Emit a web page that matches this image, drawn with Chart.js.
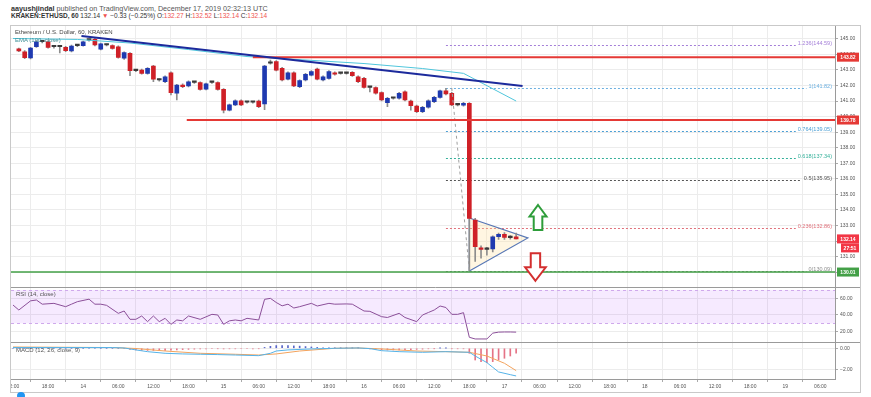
<!DOCTYPE html>
<html>
<head>
<meta charset="utf-8">
<script src="https://cdn.jsdelivr.net/npm/chart.js@4.4.0/dist/chart.umd.min.js"></script>
<style>
body { margin: 0; background: #fff; width: 871px; height: 397px; overflow: hidden; position: relative;
       font-family: "Liberation Sans", Arial, sans-serif; }
.txt { position: absolute; white-space: nowrap; line-height: 1; }
#head1 { left: 11px; top: 5px; font-size: 7.2px; color: #555; }
#head2 { left: 11px; top: 13px; font-size: 6.5px; color: #333; }
#head2 .r { color: #ef5350; }
#frame { position: absolute; left: 10px; top: 25px; width: 849px; height: 366px; border: 1px solid #c9c9c9; }
#frame canvas { position: absolute; left: 0; top: 0; }
#logo { position: absolute; left: 17px; top: 392px; width: 8px; height: 8px; border-radius: 50%; background: #2196f3; }
</style>
</head>
<body>
<div class="txt" id="head1"><b style="color:#333">aayushjindal</b> published on TradingView.com, December 17, 2019 02:32:13 UTC</div>
<div class="txt" id="head2"><b>KRAKEN:ETHUSD, 60</b> 132.14 <span class="r">&#9660;</span> &minus;0.33 (&minus;0.25%) O:<span class="r">132.27</span> H:<span class="r">132.52</span> L:<span class="r">132.14</span> C:<span class="r">132.14</span></div>
<div id="frame"><canvas id="c" width="849" height="366"></canvas></div>
<div class="txt" style="left:15px;top:29px;font-size:6px;color:#444">Ethereum / U.S. Dollar, 60, KRAKEN</div>
<div class="txt" style="left:15px;top:37px;font-size:6px;color:#3f8f96">EMA (100, close)</div>
<div class="txt" style="left:16px;top:291px;font-size:6px;color:#555">RSI (14, close)</div>
<div class="txt" style="left:16px;top:347px;font-size:6px;color:#555">MACD (12, 26, close, 9)</div>
<div id="logo"></div>
<script>
// hour 0 = Dec 13 12:00 UTC, one candle per hour
var firstHour = 1;
var opens = [144.35,144.17,143.77,144.49,144.81,144.81,144.49,144.49,144.45,144.22,
  144.56,144.56,144.92,144.97,144.34,144.60,144.56,144.49,143.75,144.07,
  142.95,142.99,142.78,143.25,142.35,142.24,142.82,141.50,142.03,141.97,
  142.20,142.18,141.77,142.20,142.18,141.75,140.42,140.75,141.02,140.92,
  140.92,141.00,140.81,143.43,143.53,143.10,142.40,142.82,141.92,142.35,
  142.67,143.06,142.35,142.46,142.82,142.78,142.78,142.85,142.56,142.46,
  141.88,141.86,141.54,140.89,141.18,141.18,141.60,141.00,140.68,140.31,
  140.60,140.96,141.24,141.66,141.50,140.75,140.73,140.85,133.35,131.57,
  131.47,131.49,132.28,132.44,132.22,132.27];
var highs = [144.40,144.25,144.45,144.88,144.90,144.87,144.55,144.55,144.52,144.60,
  144.62,144.86,144.98,145.05,144.72,144.66,144.62,144.55,144.17,144.12,
  143.02,143.05,143.15,143.30,142.42,142.62,142.88,142.08,142.10,142.30,
  142.26,142.24,142.15,142.26,142.24,141.80,140.80,141.08,141.07,140.98,
  140.98,141.06,143.30,143.64,143.60,143.16,142.88,142.88,142.36,142.78,
  142.95,143.12,142.62,142.95,142.88,142.84,142.84,142.90,142.62,142.52,
  141.94,141.92,141.60,141.24,141.24,141.56,141.66,141.06,140.74,140.66,
  141.08,141.30,141.71,141.82,141.56,140.81,140.91,140.90,133.46,131.70,
  131.60,132.34,132.52,132.55,132.35,132.52];
var lows = [144.18,143.72,143.70,144.44,144.74,144.40,144.40,144.09,144.18,144.15,
  144.50,144.52,144.85,144.55,144.28,144.54,144.33,143.75,143.68,142.63,
  142.88,142.72,142.72,142.24,142.28,142.18,141.39,141.07,141.86,141.90,
  142.14,141.70,141.71,142.14,141.70,140.23,140.36,140.70,140.70,140.86,
  140.86,140.58,140.45,143.37,142.94,142.30,142.35,141.92,141.86,142.30,
  142.62,142.35,142.30,142.40,142.66,142.72,142.72,142.58,142.18,141.82,
  141.58,141.44,141.00,140.64,141.12,141.12,141.00,140.42,140.25,140.25,
  140.54,140.90,141.18,141.40,140.70,140.69,140.67,130.09,130.70,130.90,
  131.10,131.30,132.10,132.10,132.12,132.14];
var closes = [144.22,143.79,144.41,144.81,144.81,144.45,144.49,144.49,144.23,144.54,
  144.56,144.81,144.92,144.60,144.67,144.60,144.39,143.81,144.11,142.95,
  142.95,142.78,143.10,142.40,142.35,142.56,141.54,142.03,141.92,142.24,
  142.20,141.75,142.10,142.20,141.75,140.42,140.75,141.02,140.75,140.92,
  140.92,140.64,143.25,143.43,142.99,142.35,142.82,141.97,142.31,142.72,
  142.89,142.40,142.56,142.89,142.72,142.78,142.78,142.63,142.24,141.88,
  141.88,141.50,141.07,141.18,141.18,141.50,141.07,140.70,140.31,140.60,
  141.02,141.24,141.65,141.45,140.75,140.75,140.85,133.46,131.64,131.47,
  131.47,132.28,132.44,132.24,132.22,132.14];

var emaHours = [0, 11, 20, 30, 40, 46, 60, 70, 77, 86];
var emaValues = [145.02, 144.96, 144.73, 144.31, 143.86, 143.73, 143.41, 143.09, 142.78, 141.00];

var trendHours = [11.7, 87.1];
var trendPrices = [145.18, 141.97];

var resistHigh = 143.82, resistHighFrom = 41;
var resistLow = 139.78, resistLowFrom = 29.7;
var supportPrice = 130.01;

var triangleHours = [78, 88, 78, 78];
var trianglePrices = [133.48, 132.2, 130.08, 133.48];

var fibFrom = [75, 141.84], fibTo = [78, 130.09], fibStartHour = 74;
var fibRatios = ['1.236', '1', '0.764', '0.618', '0.5', '0.236', '0'];
var fibPrices = [144.59, 141.82, 139.05, 137.34, 135.95, 132.86, 130.09];

var rsiHours = [0,1,3,4,5,7,9,10,11,13,14,15,16,18,19,20,21,22,23,24,25,26,27,28,29,30,32,34,35,36,
  37,38,39,40,42,43,44,45,46,47,48,49,51,52,54,55,57,58,60,61,63,64,66,67,69,70,71,72,73,74,
  75,76,77,78,79,80,81,82,83,84,85,86];
var rsiValues = [52,46,57,58,53,54,50,53,56,59,53,53,51.6,42,44.8,34.8,34.8,38.8,32,38.8,32,36,28.8,34,33,38.8,34.8,40.8,40,28.8,
  33,34,33,36,34,58.8,60,55,51,53,48.4,50,54,50.8,54,53,53.3,53,44.8,44.4,38,37,42,37,32,40,43,46,50.8,49,
  40.8,40.8,42.8,13.2,11.2,11.2,11.2,18.2,19.4,19.6,19.6,19.4];
var rsiBand = [30, 70];

var macdHours = [0,17,19,21,23,26,29,32,35,38,42,44,45,47,51,55,59,61,63,66,70,74,78,79,81,82,83,85,86];
var macdValues = [0.07,0.07,0.03,-0.15,-0.31,-0.46,-0.52,-0.55,-0.58,-0.62,-0.68,-0.46,-0.25,-0.15,-0.06,0,0.03,-0.03,-0.22,-0.31,-0.37,-0.31,-0.37,-0.71,-1.32,-1.75,-2.18,-2.43,-2.55];
var signalHours = [0,17,21,26,32,38,42,45,49,55,59,63,69,74,78,81,84,86];
var signalValues = [0.12,0.07,-0.02,-0.25,-0.46,-0.55,-0.62,-0.52,-0.25,0,0.03,-0.06,-0.25,-0.31,-0.37,-0.71,-1.38,-2.06];
var histValues = [0,0,0,0,0,0,0,0,0,0,0,0,0,0,0,0,0,0,0,0,
  -0.1,-0.14,-0.18,-0.2,-0.2,-0.18,-0.2,-0.17,-0.15,-0.12,-0.1,-0.08,-0.06,-0.05,-0.04,-0.04,-0.06,-0.05,-0.05,-0.04,-0.04,-0.05,-0.04,
  0.08,0.18,0.25,0.26,0.25,0.22,0.2,0.16,0.12,0.08,0.05,0.03,0.02,0.02,0.02,0.02,0.02,
  -0.02,-0.05,-0.1,-0.14,-0.16,-0.15,-0.15,-0.13,-0.12,-0.1,-0.08,-0.05,-0.03,0.02,0.02,-0.04,-0.05,-0.05,
  -0.46,-1.08,-1.23,-1.32,-1.23,-1.08,-0.92,-0.71,-0.46];

var timeTicks = [0,6,12,18,24,30,36,42,48,54,60,66,72,78,84,90,96,102,108,114,120,126,132,138];
var timeLabels = ['12:00','18:00','14','06:00','12:00','18:00','15','06:00','12:00','18:00','16','06:00',
  '12:00','18:00','17','06:00','12:00','18:00','18','06:00','12:00','18:00','19','06:00'];
var priceTicks = [130,131,132,133,134,135,136,137,138,139,140,141,142,143,144,145];
var rsiTicks = [20, 40, 60];
var macdTicks = [-2, 0];

var badgePrices = [143.82, 139.78, 132.14, 130.01];
var badgeColors = ['#e53935', '#e53935', '#f23645', '#43a047'];
var countdown = '27:51';
var fibColors = ['#a47fd8', '#6cb0e0', '#4b9fd5', '#35b09a', '#555555', '#e0707a', '#8c8c8c'];

function pts(xs, ys) { return xs.map(function (v, k) { return { x: v, y: ys[k] }; }); }

var hours = opens.map(function (o, k) { return k + firstHour; });
var candleColors = opens.map(function (o, k) {
  if (closes[k] > o) return '#1f3ab0';
  if (closes[k] < o) return '#cf2027';
  return '#3a3a3a';
});

function arrow(ctx, cx, tipY, dir, headH, headW, shaftW, shaftL, color) {
  // dir = 1 points up, -1 points down
  var baseY = tipY + dir * headH, endY = baseY + dir * shaftL;
  ctx.beginPath();
  ctx.moveTo(cx, tipY);
  ctx.lineTo(cx + headW, baseY);
  ctx.lineTo(cx + shaftW, baseY);
  ctx.lineTo(cx + shaftW, endY);
  ctx.lineTo(cx - shaftW, endY);
  ctx.lineTo(cx - shaftW, baseY);
  ctx.lineTo(cx - headW, baseY);
  ctx.closePath();
  ctx.fillStyle = '#fff';
  ctx.fill();
  ctx.lineWidth = 2;
  ctx.strokeStyle = color;
  ctx.stroke();
}

var overlay = {
  id: 'overlay',
  beforeDatasetsDraw: function (chart) {
    var ctx = chart.ctx, area = chart.chartArea, x = chart.scales.x, y = chart.scales.y, r = chart.scales.yRsi;
    ctx.save();
    var top = r.getPixelForValue(rsiBand[1]), bot = r.getPixelForValue(rsiBand[0]);
    ctx.fillStyle = 'rgba(153, 21, 255, 0.09)';
    ctx.fillRect(area.left, top, area.right - area.left, bot - top);
    ctx.strokeStyle = '#cfa9ec';
    ctx.lineWidth = 1;
    ctx.setLineDash([3, 3]);
    [top, bot].forEach(function (py) {
      ctx.beginPath(); ctx.moveTo(area.left, Math.round(py) + 0.5); ctx.lineTo(area.right, Math.round(py) + 0.5); ctx.stroke();
    });
    // fibonacci levels
    ctx.font = '5.5px "Liberation Sans", Arial, sans-serif';
    ctx.setLineDash([2, 2]);
    var x0 = x.getPixelForValue(fibStartHour), xr = area.right - 3;
    fibPrices.forEach(function (p, k) {
      var py = Math.round(y.getPixelForValue(p)) + 0.5;
      var label = fibRatios[k] + '(' + p.toFixed(2) + ')';
      var w = ctx.measureText(label).width;
      ctx.strokeStyle = fibColors[k];
      ctx.beginPath(); ctx.moveTo(x0, py); ctx.lineTo(xr - w - 2, py); ctx.stroke();
      ctx.fillStyle = fibColors[k];
      ctx.textAlign = 'right';
      ctx.textBaseline = 'middle';
      ctx.fillText(label, xr, py - 2.5);
    });
    ctx.restore();
  },
  afterDatasetsDraw: function (chart) {
    var ctx = chart.ctx, x = chart.scales.x, y = chart.scales.y;
    ctx.save();
    arrow(ctx, x.getPixelForValue(89.74), y.getPixelForValue(134.32), 1, 11.5, 8.5, 4.3, 13.5, '#2e9d3a');
    arrow(ctx, x.getPixelForValue(89.3), y.getPixelForValue(129.45), -1, 13.5, 10.3, 4.7, 14, '#d32f2f');
    ctx.restore();
  },
  afterDraw: function (chart) {
    var ctx = chart.ctx, y = chart.scales.y, r = chart.scales.yRsi;
    ctx.save();
    ctx.strokeStyle = '#9a9a9a';
    ctx.lineWidth = 1;
    [r.top, r.bottom].forEach(function (py) {
      ctx.beginPath(); ctx.moveTo(0, Math.round(py) + 0.5); ctx.lineTo(chart.width, Math.round(py) + 0.5); ctx.stroke();
    });
    ctx.font = 'bold 5px "Liberation Sans", Arial, sans-serif';
    ctx.textAlign = 'center';
    ctx.textBaseline = 'middle';
    var bx = y.left + 2, bw = chart.width - bx - 1;
    badgePrices.forEach(function (p, k) {
      var py = y.getPixelForValue(p);
      ctx.fillStyle = badgeColors[k];
      ctx.fillRect(bx, py - 4.5, bw, 9);
      ctx.fillStyle = '#fff';
      ctx.fillText(p.toFixed(2), bx + bw / 2, py + 0.5);
      if (p === closes[closes.length - 1]) {
        ctx.fillStyle = badgeColors[k];
        ctx.fillRect(bx + 4, py + 4.5, bw - 4, 9);
        ctx.fillStyle = '#fff';
        ctx.fillText(countdown, bx + 2 + bw / 2, py + 9.5);
      }
    });
    ctx.restore();
  }
};

// no extra padding for tick labels, the panes fill the canvas exactly
function noPad(s) { s.paddingTop = 0; s.paddingBottom = 0; s.paddingLeft = 0; s.paddingRight = 0; }
function fixWidth(s) { s.width = 25; noPad(s); }
var axisFont = { size: 5 };
var gridColor = '#ececec';

new Chart(document.getElementById('c'), {
  type: 'bar',
  data: {
    datasets: [
      { type: 'line', data: pts(triangleHours, trianglePrices), borderColor: '#5878b6', borderWidth: 1.2,
        backgroundColor: 'rgba(255, 224, 160, 0.3)', fill: 'shape', order: 9 },
      { type: 'bar', data: hours.map(function (h, k) { return { x: h, y: [lows[k], highs[k]] }; }),
        backgroundColor: '#8d8d8d', barThickness: 1, grouped: false, order: 8 },
      { type: 'bar', data: hours.map(function (h, k) { return { x: h, y: [opens[k], closes[k]] }; }),
        backgroundColor: candleColors, barThickness: 4, minBarLength: 1.5, grouped: false, order: 7 },
      { type: 'line', data: pts(emaHours, emaValues), borderColor: '#4fc6dc', borderWidth: 1, order: 6 },
      { type: 'line', data: pts(trendHours, trendPrices), borderColor: '#1c2a9c', borderWidth: 2, order: 2 },
      { type: 'line', data: [{ x: resistHighFrom, y: resistHigh }, { x: 140.5, y: resistHigh }], borderColor: '#e53935', borderWidth: 2, order: 3 },
      { type: 'line', data: [{ x: resistLowFrom, y: resistLow }, { x: 140.5, y: resistLow }], borderColor: '#e53935', borderWidth: 2, order: 3 },
      { type: 'line', data: [{ x: -0.34, y: supportPrice }, { x: 140.5, y: supportPrice }], borderColor: '#43a047', borderWidth: 1.5, order: 3 },
      { type: 'line', data: [{ x: fibFrom[0], y: fibFrom[1] }, { x: fibTo[0], y: fibTo[1] }], borderColor: '#9e9e9e', borderWidth: 1, borderDash: [3, 3], order: 4 },
      { type: 'line', yAxisID: 'yRsi', data: pts(rsiHours, rsiValues), borderColor: '#8b4f99', borderWidth: 1, order: 1 },
      { type: 'bar', yAxisID: 'yMacd', data: histValues.map(function (v, k) { return { x: k, y: v }; }),
        backgroundColor: histValues.map(function (v) { return v >= 0 ? '#5865c9' : '#e57386'; }), barThickness: 1, grouped: false, order: 5 },
      { type: 'line', yAxisID: 'yMacd', data: pts(macdHours, macdValues), borderColor: '#55b3e8', borderWidth: 1, order: 1 },
      { type: 'line', yAxisID: 'yMacd', data: pts(signalHours, signalValues), borderColor: '#f3a35d', borderWidth: 1, order: 1 }
    ]
  },
  options: {
    responsive: false,
    animation: false,
    devicePixelRatio: 1,
    layout: { padding: 0 },
    elements: { point: { radius: 0 }, line: { tension: 0 } },
    plugins: { legend: { display: false }, tooltip: { enabled: false } },
    scales: {
      x: {
        type: 'linear', min: -0.34, max: 140.5, offset: false,
        grid: { color: gridColor, tickLength: 3, tickColor: '#aaa' },
        border: { color: '#9a9a9a' },
        ticks: {
          autoSkip: false, maxRotation: 0, padding: 2, color: '#555', font: axisFont,
          callback: function (v) { var k = timeTicks.indexOf(v); return k < 0 ? '' : timeLabels[k]; }
        },
        afterBuildTicks: function (s) { s.ticks = timeTicks.map(function (v) { return { value: v }; }); },
        afterFit: function (s) { s.height = 13; noPad(s); }
      },
      y: {
        position: 'right', stack: 'panes', stackWeight: 260.7, min: 129.068, max: 145.823,
        grid: { color: gridColor, tickLength: 3, tickColor: '#aaa' },
        border: { color: '#9a9a9a' },
        ticks: { color: '#555', font: axisFont, padding: 2, autoSkip: false, callback: function (v) { return v.toFixed(2); } },
        afterBuildTicks: function (s) { s.ticks = priceTicks.map(function (v) { return { value: v }; }); },
        afterFit: fixWidth
      },
      yRsi: {
        position: 'right', stack: 'panes', stackWeight: 55.3, min: 7.55, max: 74,
        grid: { color: gridColor, tickLength: 3, tickColor: '#aaa' },
        border: { color: '#9a9a9a' },
        ticks: { color: '#555', font: axisFont, padding: 2, callback: function (v) { return v.toFixed(2); } },
        afterBuildTicks: function (s) { s.ticks = rsiTicks.map(function (v) { return { value: v }; }); },
        afterFit: fixWidth
      },
      yMacd: {
        position: 'right', stack: 'panes', stackWeight: 37, min: -2.83, max: 0.58,
        grid: { color: gridColor, tickLength: 3, tickColor: '#aaa' },
        border: { color: '#9a9a9a' },
        ticks: { color: '#555', font: axisFont, padding: 2, callback: function (v) { return v < 0 ? '\u2212' + (-v).toFixed(2) : v.toFixed(2); } },
        afterBuildTicks: function (s) { s.ticks = macdTicks.map(function (v) { return { value: v }; }); },
        afterFit: fixWidth
      }
    }
  },
  plugins: [overlay]
});
</script>
</body>
</html>
